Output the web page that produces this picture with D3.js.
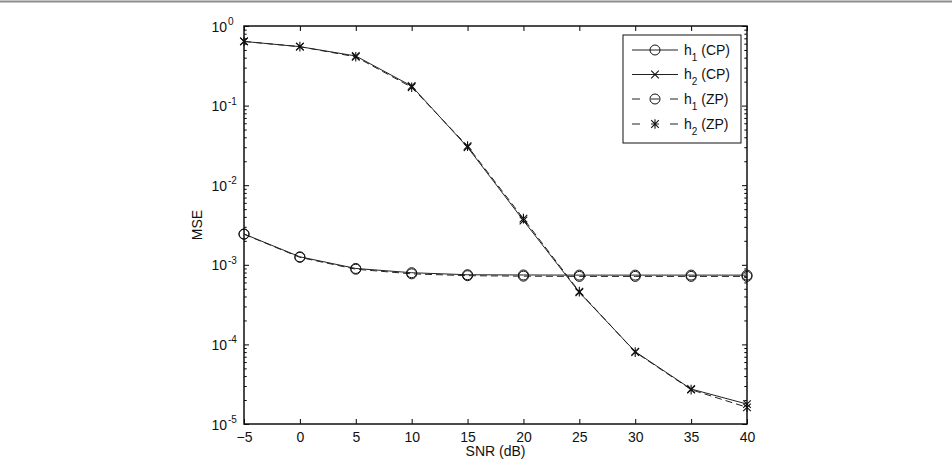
<!DOCTYPE html>
<html>
<head>
<meta charset="utf-8">
<script src="https://cdn.jsdelivr.net/npm/d3@7"></script>
<style>
  body { margin: 0; background: #fff; }
  text { font-family: "Liberation Sans", Arial, Helvetica, sans-serif; fill: #111; }
</style>
</head>
<body>
<div id="chart"></div>
<script>
// datos
const snr = [-5, 0, 5, 10, 15, 20, 25, 30, 35, 40];
const h1CP = [2.44e-3, 1.26e-3, 9.0e-4, 7.95e-4, 7.5e-4, 7.45e-4, 7.42e-4, 7.42e-4, 7.42e-4, 7.42e-4];
const h1ZP = [2.42e-3, 1.24e-3, 8.8e-4, 7.7e-4, 7.3e-4, 7.2e-4, 7.15e-4, 7.15e-4, 7.15e-4, 7.15e-4];
const h2CP = [0.64, 0.55, 0.42, 0.176, 0.030, 3.6e-3, 4.5e-4, 8.1e-5, 2.75e-5, 1.78e-5];
const h2ZP = [0.64, 0.55, 0.41, 0.17, 0.031, 3.8e-3, 4.6e-4, 8.0e-5, 2.7e-5, 1.62e-5];
const xTicks = [-5, 0, 5, 10, 15, 20, 25, 30, 35, 40];
const yDecades = [0, -1, -2, -3, -4, -5];

const width = 952, height = 460;
const mLeft = 244, mRight = 747, mTop = 26, mBottom = 424;

const svg = d3.select("#chart").append("svg")
    .attr("width", width)
    .attr("height", height);

// linea gris superior
svg.append("line")
    .attr("x1", 0).attr("x2", width)
    .attr("y1", 1.5).attr("y2", 1.5)
    .attr("stroke", "#8c8c8c")
    .attr("stroke-width", 2);

const x = d3.scaleLinear().domain([-5, 40]).range([mLeft, mRight]);
const y = d3.scaleLog().domain([1e-5, 1]).range([mBottom, mTop]);

const majors = yDecades.map(e => Math.pow(10, e));
const minors = [];
yDecades.slice(0, -1).forEach(e => {
    for (let k = 2; k <= 9; k++) minors.push(k * Math.pow(10, e - 1));
});

// ejes
svg.append("g")
    .attr("transform", `translate(0,${mBottom})`)
    .call(d3.axisBottom(x).tickValues(xTicks).tickSizeInner(-5).tickSizeOuter(0).tickPadding(8))
    .call(g => g.select(".domain").remove())
    .call(g => g.selectAll("text").attr("font-size", 14).attr("font-family", "Liberation Sans, Arial, sans-serif"));

svg.append("g")
    .attr("transform", `translate(0,${mTop})`)
    .call(d3.axisTop(x).tickValues(xTicks).tickSizeInner(-5).tickSizeOuter(0).tickFormat(""))
    .call(g => g.select(".domain").remove());

[[d3.axisLeft, mLeft], [d3.axisRight, mRight]].forEach(([axis, pos]) => {
    svg.append("g")
        .attr("transform", `translate(${pos},0)`)
        .call(axis(y).tickValues(majors).tickSizeInner(-5).tickSizeOuter(0).tickFormat(""))
        .call(g => g.select(".domain").remove());
    svg.append("g")
        .attr("transform", `translate(${pos},0)`)
        .call(axis(y).tickValues(minors).tickSizeInner(-2.7).tickSizeOuter(0).tickFormat(""))
        .call(g => g.select(".domain").remove());
});

// etiquetas 10^n
yDecades.forEach(e => {
    const yy = y(Math.pow(10, e));
    svg.append("text")
        .attr("x", 227).attr("y", yy + 5.5)
        .attr("text-anchor", "end")
        .attr("font-size", 14)
        .text("10");
    svg.append("text")
        .attr("x", 228).attr("y", yy - 1)
        .attr("font-size", 10)
        .text(e === 0 ? "0" : "-" + (-e));
});

// marco
svg.append("rect")
    .attr("x", mLeft).attr("y", mTop)
    .attr("width", mRight - mLeft).attr("height", mBottom - mTop)
    .attr("fill", "none")
    .attr("stroke", "#111")
    .attr("stroke-width", 1.5);

// series
const series = [
    {vals: h1CP, dash: null, marker: "o"},
    {vals: h2CP, dash: null, marker: "x"},
    {vals: h1ZP, dash: "7,4", marker: "o"},
    {vals: h2ZP, dash: "7,4", marker: "*"}
];
const labels = [["1", "(CP)"], ["2", "(CP)"], ["1", "(ZP)"], ["2", "(ZP)"]];

const line = d3.line().x((d, i) => x(snr[i])).y(d => y(d));

function drawMarker(g, type, cx, cy) {
    if (type === "o") {
        g.append("circle").attr("cx", cx).attr("cy", cy).attr("r", 5)
            .attr("fill", "none").attr("stroke", "#111").attr("stroke-width", 1);
    } else {
        const s = 3.8;
        const p = `M${cx - s},${cy - s}L${cx + s},${cy + s}M${cx - s},${cy + s}L${cx + s},${cy - s}` +
            (type === "*" ? `M${cx},${cy - s - 1}L${cx},${cy + s + 1}` : "");
        g.append("path").attr("d", p).attr("fill", "none")
            .attr("stroke", "#111").attr("stroke-width", 1.1);
    }
}

series.forEach(s => {
    svg.append("path")
        .datum(s.vals)
        .attr("d", line)
        .attr("fill", "none")
        .attr("stroke", "#222")
        .attr("stroke-width", 1)
        .attr("stroke-dasharray", s.dash);
});
series.forEach(s => {
    const g = svg.append("g");
    s.vals.forEach((v, i) => drawMarker(g, s.marker, x(snr[i]), y(v)));
});

// leyenda
const leg = svg.append("g");
leg.append("rect")
    .attr("x", 623).attr("y", 35)
    .attr("width", 118).attr("height", 108)
    .attr("fill", "#fff")
    .attr("stroke", "#111")
    .attr("stroke-width", 1);
const rowY = [50, 74.5, 99, 124];
series.forEach((s, i) => {
    const yy = rowY[i];
    leg.append("line")
        .attr("x1", 632).attr("x2", 678)
        .attr("y1", yy).attr("y2", yy)
        .attr("stroke", "#222")
        .attr("stroke-dasharray", s.dash ? "8,11" : null);
    drawMarker(leg, s.marker, 655, yy);
    const t = leg.append("text")
        .attr("x", 684).attr("y", yy + 4.5)
        .attr("font-size", 14);
    t.append("tspan").text("h");
    t.append("tspan").attr("font-size", 10).attr("dy", 6).text(labels[i][0]);
    t.append("tspan").attr("dy", -6).text(" " + labels[i][1]);
});

// titulos de ejes
svg.append("text")
    .attr("x", (mLeft + mRight) / 2)
    .attr("y", 456)
    .attr("text-anchor", "middle")
    .attr("font-size", 14)
    .text("SNR (dB)");

svg.append("text")
    .attr("transform", `translate(202,${(mTop + mBottom) / 2}) rotate(-90)`)
    .attr("text-anchor", "middle")
    .attr("font-size", 14)
    .text("MSE");
</script>
</body>
</html>
